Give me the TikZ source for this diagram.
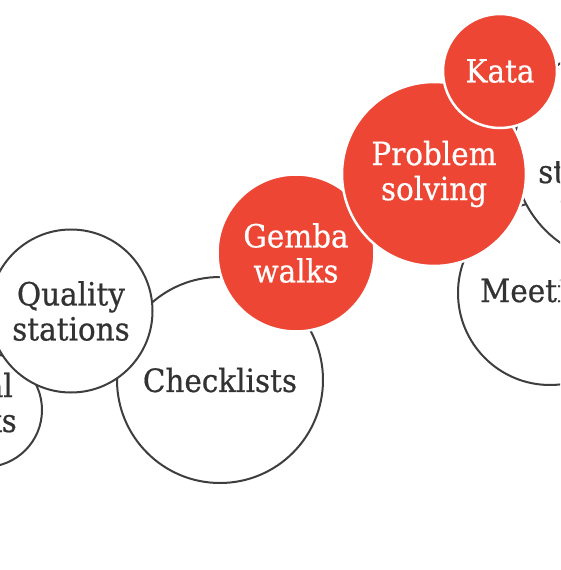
\documentclass[tikz,border=0pt]{standalone}
\usepackage{fontspec}
\setmainfont{DejaVu Serif}[FakeStretch=0.92, FakeBold=0.6]
\definecolor{kaizen}{RGB}{238,70,52}
\definecolor{rim}{RGB}{62,62,62}
\definecolor{ink}{RGB}{50,50,50}

\begin{document}
\begin{tikzpicture}[x=1pt, y=-1pt,
    every node/.style={inner sep=0pt, align=center, font=\fontsize{32}{35}\selectfont},
    plain/.style={circle, draw=rim, line width=2pt, fill=white, text=ink},
    hot/.style={circle, draw=white, line width=2.5pt, fill=kaizen, text=white},
    cut/.style={text=ink}]
    \useasboundingbox (0,0) rectangle (560,570);
    \clip (0,0) rectangle (560,570);

    % levy okraj
    \node[plain, minimum size=114pt] (V) at (-15,410) {};
    \node[cut, anchor=base east] (Vt) at (13,397) {al};
    \node[cut, anchor=base east] (Vb) at (17,432) {ks};

    % bile kruhy
    \node[plain, minimum size=206pt] (C) at (220,380) {Checklists};
    \node[plain, minimum size=163pt] (Q) at (71,311) {Quality\\stations};

    % cervene kruhy
    \node[hot, minimum size=157pt] (G) at (296,253) {Gemba\\walks};

    % pravy okraj
    \node[plain, minimum size=184pt] (M) at (550,293) {};
    \node[cut, anchor=base west] (Mt) at (480,302) {Meeti};
    \node[plain, minimum size=219pt] (S) at (623,153) {};
    \node[cut, anchor=base west] (St) at (538,183) {st};

    % problem solving a kata navrchu
    \node[hot, minimum size=184pt] (P) at (434,174) {Problem\\solving};
    \node[hot, minimum size=114pt] (K) at (500,71) {Kata};
\end{tikzpicture}
\end{document}
